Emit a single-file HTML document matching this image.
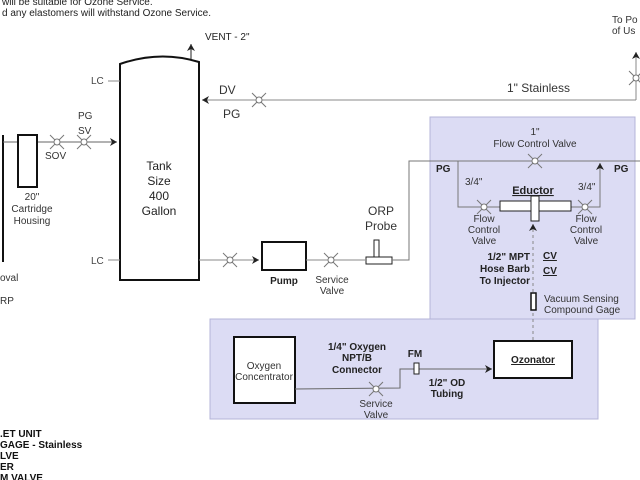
<!DOCTYPE html>
<html><head><meta charset="utf-8"><style>
html,body{margin:0;padding:0;background:#fff;}
svg{display:block;font-family:"Liberation Sans",Arial,sans-serif;}
</style></head><body>
<svg width="640" height="480" viewBox="0 0 640 480" xmlns="http://www.w3.org/2000/svg">
<defs>
<marker id="ar" markerWidth="8" markerHeight="8" refX="7" refY="4" orient="auto" markerUnits="userSpaceOnUse"><path d="M0,0 L7,4 L0,8 L2,4 Z" fill="#222"/></marker>
<g id="v"><line x1="-7" y1="-7" x2="7" y2="7" stroke="#777" stroke-width="1"/><line x1="-7" y1="7" x2="7" y2="-7" stroke="#777" stroke-width="1"/><circle r="3" fill="#fff" stroke="#777"/></g>
</defs>
<!-- purple boxes -->
<rect x="430" y="117" width="205" height="202" fill="#dcdcf4" stroke="#b4b4d8"/>
<rect x="210" y="319" width="388" height="100" fill="#dcdcf4" stroke="#b4b4d8"/>

<!-- header text -->
<text x="2" y="5" font-size="10" fill="#222">will be suitable for Ozone Service.</text>
<text x="2" y="16" font-size="10" fill="#222">d any elastomers will withstand Ozone Service.</text>

<!-- tank -->
<path d="M120,280 L120,64 Q160,50 199,62 L199,280 Z" fill="#fff" stroke="#111" stroke-width="2"/>
<text x="159" y="170" font-size="12" text-anchor="middle" fill="#222">Tank</text>
<text x="159" y="185" font-size="12" text-anchor="middle" fill="#222">Size</text>
<text x="159" y="200" font-size="12" text-anchor="middle" fill="#222">400</text>
<text x="159" y="215" font-size="12" text-anchor="middle" fill="#222">Gallon</text>
<line x1="191" y1="59" x2="191" y2="44" stroke="#222" marker-end="url(#ar)"/>
<text x="205" y="40" font-size="10" fill="#222">VENT - 2"</text>
<text x="91" y="84" font-size="10" fill="#444">LC</text><line x1="108" y1="81" x2="120" y2="81" stroke="#888"/>
<text x="91" y="264" font-size="10" fill="#444">LC</text><line x1="108" y1="260" x2="120" y2="260" stroke="#888"/>

<!-- top line -->
<line x1="636" y1="100" x2="202" y2="100" stroke="#888" marker-end="url(#ar)"/>
<use href="#v" x="259" y="100"/>
<text x="219" y="94" font-size="12" fill="#333">DV</text>
<text x="223" y="118" font-size="12" fill="#333">PG</text>
<text x="507" y="92" font-size="12" fill="#333">1" Stainless</text>
<line x1="636" y1="100" x2="636" y2="52" stroke="#888" marker-end="url(#ar)"/>
<use href="#v" x="636" y="78"/>
<text x="612" y="23" font-size="10" fill="#333">To Po</text>
<text x="612" y="34" font-size="10" fill="#333">of Us</text>

<!-- left side -->
<line x1="3" y1="135" x2="3" y2="262" stroke="#111" stroke-width="2"/>
<line x1="3" y1="142" x2="117" y2="142" stroke="#666" marker-end="url(#ar)"/>
<rect x="18" y="135" width="19" height="52" fill="#fff" stroke="#111" stroke-width="2"/>
<use href="#v" x="57" y="142"/><use href="#v" x="84" y="142"/>
<text x="45" y="159" font-size="10" fill="#333">SOV</text>
<text x="78" y="119" font-size="10" fill="#333">PG</text>
<text x="78" y="134" font-size="10" fill="#333">SV</text>
<text x="32" y="200" font-size="10" text-anchor="middle" fill="#333">20"</text>
<text x="32" y="212" font-size="10" text-anchor="middle" fill="#333">Cartridge</text>
<text x="32" y="224" font-size="10" text-anchor="middle" fill="#333">Housing</text>
<text x="0" y="281" font-size="10" fill="#333">oval</text>
<text x="0" y="304" font-size="10" fill="#333">RP</text>

<!-- bottom line -->
<line x1="199" y1="260" x2="259" y2="260" stroke="#888" marker-end="url(#ar)"/>
<use href="#v" x="230" y="260"/>
<rect x="262" y="242" width="44" height="28" fill="#fff" stroke="#111" stroke-width="2"/>
<text x="284" y="284" font-size="10" font-weight="bold" text-anchor="middle" fill="#222">Pump</text>
<line x1="306" y1="260" x2="365" y2="260" stroke="#888"/>
<use href="#v" x="331" y="260"/>
<text x="332" y="283" font-size="10" text-anchor="middle" fill="#333">Service</text>
<text x="332" y="294" font-size="10" text-anchor="middle" fill="#333">Valve</text>
<rect x="366" y="257" width="26" height="7" fill="#fff" stroke="#222"/>
<rect x="374" y="240" width="5" height="17" fill="#fff" stroke="#222"/>
<text x="381" y="215" font-size="12" text-anchor="middle" fill="#333">ORP</text>
<text x="381" y="230" font-size="12" text-anchor="middle" fill="#333">Probe</text>
<polyline points="392,260 409,260 409,161 640,161" fill="none" stroke="#777"/>
<use href="#v" x="535" y="161"/>
<text x="535" y="135" font-size="10" text-anchor="middle" fill="#333">1"</text>
<text x="535" y="147" font-size="10" text-anchor="middle" fill="#333">Flow Control Valve</text>
<text x="436" y="172" font-size="10" font-weight="bold" fill="#222">PG</text>
<text x="614" y="172" font-size="10" font-weight="bold" fill="#222">PG</text>
<polyline points="458,161 458,207 500,207" fill="none" stroke="#777"/>
<polyline points="571,207 600,207 600,163" fill="none" stroke="#777" marker-end="url(#ar)"/>
<use href="#v" x="484" y="207"/><use href="#v" x="585" y="207"/>
<text x="465" y="185" font-size="10" fill="#333">3/4"</text>
<text x="578" y="190" font-size="10" fill="#333">3/4"</text>
<text x="533" y="194" font-size="11" font-weight="bold" text-anchor="middle" fill="#222" text-decoration="underline">Eductor</text>
<rect x="500" y="201" width="71" height="10" fill="#fff" stroke="#222"/>
<rect x="531" y="196" width="8" height="25" fill="#fff" stroke="#222"/>
<line x1="533" y1="340" x2="533" y2="224" stroke="#888" stroke-dasharray="3,3" marker-end="url(#ar)"/>
<text x="484" y="222" font-size="10" text-anchor="middle" fill="#333">Flow</text>
<text x="484" y="233" font-size="10" text-anchor="middle" fill="#333">Control</text>
<text x="484" y="244" font-size="10" text-anchor="middle" fill="#333">Valve</text>
<text x="586" y="222" font-size="10" text-anchor="middle" fill="#333">Flow</text>
<text x="586" y="233" font-size="10" text-anchor="middle" fill="#333">Control</text>
<text x="586" y="244" font-size="10" text-anchor="middle" fill="#333">Valve</text>
<text x="530" y="260" font-size="10" font-weight="bold" text-anchor="end" fill="#222">1/2" MPT</text>
<text x="530" y="272" font-size="10" font-weight="bold" text-anchor="end" fill="#222">Hose Barb</text>
<text x="530" y="284" font-size="10" font-weight="bold" text-anchor="end" fill="#222">To Injector</text>
<text x="543" y="259" font-size="10" font-weight="bold" fill="#222" text-decoration="underline">CV</text>
<text x="543" y="274" font-size="10" font-weight="bold" fill="#222" text-decoration="underline">CV</text>
<rect x="531" y="293" width="5" height="17" fill="#fff" stroke="#111" stroke-width="1.5"/>
<text x="544" y="302" font-size="10" fill="#333">Vacuum Sensing</text>
<text x="544" y="313" font-size="10" fill="#333">Compound Gage</text>

<!-- lower box -->
<rect x="234" y="337" width="61" height="66" fill="#fff" stroke="#111" stroke-width="2"/>
<text x="264" y="369" font-size="10" text-anchor="middle" fill="#333">Oxygen</text>
<text x="264" y="380" font-size="10" text-anchor="middle" fill="#333">Concentrator</text>
<polyline points="295,389 400,388 400,369 414,369" fill="none" stroke="#666"/>
<line x1="419" y1="369" x2="492" y2="369" stroke="#666" marker-end="url(#ar)"/>
<use href="#v" x="376" y="389"/>
<rect x="414" y="363" width="5" height="11" fill="#fff" stroke="#222"/>
<text x="415" y="357" font-size="10" font-weight="bold" text-anchor="middle" fill="#222">FM</text>
<text x="357" y="350" font-size="10" font-weight="bold" text-anchor="middle" fill="#222">1/4" Oxygen</text>
<text x="357" y="361" font-size="10" font-weight="bold" text-anchor="middle" fill="#222">NPT/B</text>
<text x="357" y="373" font-size="10" font-weight="bold" text-anchor="middle" fill="#222">Connector</text>
<text x="376" y="407" font-size="10" text-anchor="middle" fill="#333">Service</text>
<text x="376" y="418" font-size="10" text-anchor="middle" fill="#333">Valve</text>
<text x="447" y="386" font-size="10" font-weight="bold" text-anchor="middle" fill="#222">1/2" OD</text>
<text x="447" y="397" font-size="10" font-weight="bold" text-anchor="middle" fill="#222">Tubing</text>
<rect x="494" y="341" width="78" height="37" fill="#fff" stroke="#111" stroke-width="2"/>
<text x="533" y="363" font-size="10" font-weight="bold" text-anchor="middle" fill="#222" text-decoration="underline">Ozonator</text>

<!-- legend -->
<g font-size="10" font-weight="bold" fill="#111">
<text x="0" y="437">.ET UNIT</text>
<text x="0" y="448">GAGE  -  Stainless</text>
<text x="0" y="459">LVE</text>
<text x="0" y="470">ER</text>
<text x="0" y="481">M VALVE</text>
</g>
</svg>
</body></html>
